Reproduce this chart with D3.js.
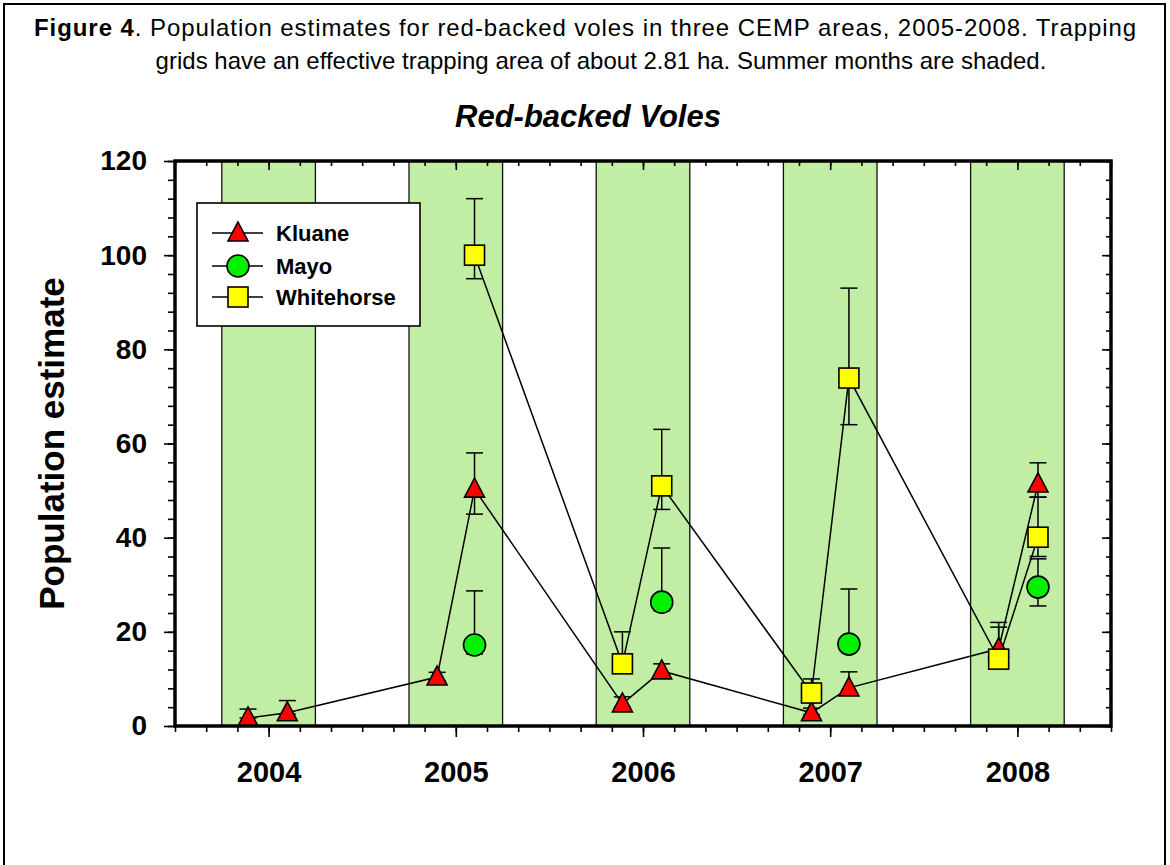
<!DOCTYPE html>
<html>
<head>
<meta charset="utf-8">
<script src="https://cdn.jsdelivr.net/npm/d3@7"></script>
<style>
  body { margin: 0; background: #fff; }
  svg { display: block; font-family: Arial, "Liberation Sans", sans-serif; }
</style>
</head>
<body>
<svg id="chart" width="1170" height="865"></svg>
<script>
// year labels on the x axis (tick sits at mid-year)
var years = [2004, 2005, 2006, 2007, 2008];
var yTicks = [0, 20, 40, 60, 80, 100, 120];

// Kluane (decimal year of trapping session, estimate, lower / upper error)
var kluaneT  = [2004.39, 2004.60, 2005.40, 2005.60, 2006.39, 2006.60, 2007.40, 2007.60, 2008.40, 2008.61];
var kluaneV  = [1.7, 2.8, 10.4, 50.3, 4.7, 11.7, 2.8, 8.1, 16.4, 51.4];
var kluaneLo = [1.7, 2.5, 9.6, 45.0, 4.0, 10.5, 2.4, 7.0, 15.0, 48.6];
var kluaneHi = [3.6, 5.4, 11.4, 58.0, 6.2, 13.2, 3.8, 11.5, 21.0, 55.9];

// Mayo
var mayoT  = [2005.60, 2006.60, 2007.60, 2008.61];
var mayoV  = [17.2, 26.3, 17.4, 29.5];
var mayoLo = [15.3, 24.5, 16.0, 25.5];
var mayoHi = [28.7, 37.8, 29.1, 35.5];

// Whitehorse
var whiteT  = [2005.60, 2006.39, 2006.60, 2007.40, 2007.60, 2008.40, 2008.61];
var whiteV  = [100, 13.2, 51.0, 7.0, 73.9, 14.2, 40.1];
var whiteLo = [95.0, 12.0, 46.0, 6.0, 64.0, 13.0, 36.0];
var whiteHi = [112.0, 20.0, 63.0, 10.0, 93.0, 22.0, 48.6];

var svg = d3.select("#chart");

// plot box (don't use "top" - it's window.top)
var pL = 175, pR = 1111, pT = 161, pB = 726;

var x = d3.scaleLinear().domain([2004, 2009]).range([pL, pR]);
var y = d3.scaleLinear().domain([0, 120]).range([pB, pT]);

// page border
svg.append("rect")
  .attr("x", 4).attr("y", 4)
  .attr("width", 1161).attr("height", 880)
  .attr("fill", "none").attr("stroke", "#000").attr("stroke-width", 2);

// caption, first line stretched to the full width
var cap1 = svg.append("text")
  .attr("x", 34).attr("y", 36)
  .style("font-size", "24px");
cap1.append("tspan").style("font-weight", "bold").text("Figure 4");
cap1.append("tspan").text(".  Population estimates for red-backed voles in three CEMP areas, 2005-2008. Trapping");
var natural = cap1.node().getComputedTextLength();
var nChars = cap1.text().length;
cap1.style("letter-spacing", Math.max(0, (1104 - natural) / nChars) + "px");

svg.append("text")
  .attr("x", 601).attr("y", 69)
  .attr("text-anchor", "middle")
  .style("font-size", "24px")
  .text("grids have an effective trapping area of about 2.81 ha. Summer months are shaded.");

// chart title
svg.append("text")
  .attr("x", 588).attr("y", 127)
  .attr("text-anchor", "middle")
  .style("font-size", "31px")
  .style("font-weight", "bold")
  .style("font-style", "italic")
  .text("Red-backed Voles");

// summer shading
svg.append("g").selectAll("rect")
  .data(years)
  .enter().append("rect")
  .attr("x", function(d) { return x(d + 0.25); })
  .attr("y", pT)
  .attr("width", function(d) { return x(d + 0.75) - x(d + 0.25); })
  .attr("height", pB - pT)
  .attr("fill", "#c2eda4");

svg.append("g").selectAll("line")
  .data(d3.merge(years.map(function(d) { return [d + 0.25, d + 0.75]; })))
  .enter().append("line")
  .attr("x1", function(d) { return x(d); })
  .attr("x2", function(d) { return x(d); })
  .attr("y1", pT).attr("y2", pB)
  .attr("stroke", "#111").attr("stroke-width", 1.3);

// axes
var minorX = d3.range(2004, 2009.001, 1 / 6);
var majorX = years.map(function(d) { return d + 0.5; });
var xBottom = d3.axisBottom(x).tickValues(minorX).tickSize(6).tickFormat("");
var xBottomMajor = d3.axisBottom(x).tickValues(majorX)
  .tickSize(11).tickFormat(function(d) { return String(Math.floor(d)); }).tickPadding(24);
var xTop = d3.axisBottom(x).tickValues(minorX).tickSize(5).tickFormat("");
var xTopMajor = d3.axisBottom(x).tickValues(majorX).tickSize(9).tickFormat("");

var minorY = d3.range(0, 120.001, 4);
var yLeft = d3.axisLeft(y).tickValues(minorY).tickSize(7).tickFormat("");
var yLeftMajor = d3.axisLeft(y).tickValues(yTicks).tickSize(11).tickPadding(17);
var yRight = d3.axisLeft(y).tickValues(minorY).tickSize(5).tickFormat("");
var yRightMajor = d3.axisLeft(y).tickValues(yTicks).tickSize(9).tickFormat("");

function styleAxis(g) {
  g.select(".domain").remove();
  g.selectAll(".tick line").attr("stroke", "#000").attr("stroke-width", 1.6);
}

svg.append("g").attr("transform", "translate(0," + pB + ")").call(xBottom).call(styleAxis);
var xb = svg.append("g").attr("transform", "translate(0," + pB + ")").call(xBottomMajor).call(styleAxis);
xb.selectAll("text")
  .attr("fill", "#000")
  .style("font-size", "29px")
  .style("font-weight", "bold")
  .style("font-family", "Arial, 'Liberation Sans', sans-serif");
svg.append("g").attr("transform", "translate(0," + pT + ")").call(xTop).call(styleAxis);
svg.append("g").attr("transform", "translate(0," + pT + ")").call(xTopMajor).call(styleAxis);

svg.append("g").attr("transform", "translate(" + pL + ",0)").call(yLeft).call(styleAxis);
var yl = svg.append("g").attr("transform", "translate(" + pL + ",0)").call(yLeftMajor).call(styleAxis);
yl.selectAll("text")
  .attr("fill", "#000")
  .style("font-size", "28px")
  .style("font-weight", "bold")
  .style("font-family", "Arial, 'Liberation Sans', sans-serif");
svg.append("g").attr("transform", "translate(" + pR + ",0)").call(yRight).call(styleAxis);
svg.append("g").attr("transform", "translate(" + pR + ",0)").call(yRightMajor).call(styleAxis);

// y axis title
svg.append("text")
  .attr("transform", "translate(64," + ((pT + pB) / 2) + ") rotate(-90)")
  .attr("text-anchor", "middle")
  .style("font-size", "35px")
  .style("font-weight", "bold")
  .text("Population estimate");

// series
function pack(t, v, lo, hi) {
  return t.map(function(d, i) { return {t: d, v: v[i], lo: lo[i], hi: hi[i]}; });
}
var kluane = pack(kluaneT, kluaneV, kluaneLo, kluaneHi);
var mayo = pack(mayoT, mayoV, mayoLo, mayoHi);
var white = pack(whiteT, whiteV, whiteLo, whiteHi);

var line = d3.line()
  .x(function(d) { return x(d.t); })
  .y(function(d) { return y(d.v); });

[kluane, white].forEach(function(s) {
  svg.append("path")
    .datum(s)
    .attr("d", line)
    .attr("fill", "none")
    .attr("stroke", "#000")
    .attr("stroke-width", 1.5);
});

// error bars
var capW = 8.5;
[kluane, mayo, white].forEach(function(s) {
  var g = svg.append("g").attr("stroke", "#000").attr("stroke-width", 1.5);
  g.selectAll(".stem").data(s).enter().append("line")
    .attr("x1", function(d) { return x(d.t); })
    .attr("x2", function(d) { return x(d.t); })
    .attr("y1", function(d) { return y(d.lo); })
    .attr("y2", function(d) { return y(d.hi); });
  g.selectAll(".hicap").data(s).enter().append("line")
    .attr("x1", function(d) { return x(d.t) - capW; })
    .attr("x2", function(d) { return x(d.t) + capW; })
    .attr("y1", function(d) { return y(d.hi); })
    .attr("y2", function(d) { return y(d.hi); });
  g.selectAll(".locap").data(s).enter().append("line")
    .attr("x1", function(d) { return x(d.t) - capW; })
    .attr("x2", function(d) { return x(d.t) + capW; })
    .attr("y1", function(d) { return y(d.lo); })
    .attr("y2", function(d) { return y(d.lo); });
});

// markers
function triangle() {
  var p = d3.path();
  p.moveTo(0, -11); p.lineTo(10, 8); p.lineTo(-10, 8); p.closePath();
  return p.toString();
}
function drawMarker(g, kind) {
  if (kind == "tri") {
    g.append("path").attr("d", triangle()).attr("fill", "#ff0000");
  } else if (kind == "circ") {
    g.append("circle").attr("r", 11).attr("fill", "#00f000");
  } else {
    g.append("rect").attr("x", -10).attr("y", -10).attr("width", 20).attr("height", 20).attr("fill", "#ffff00");
  }
  g.selectAll("*").attr("stroke", "#000").attr("stroke-width", 1.6);
}

var series = [
  {name: "Kluane", data: kluane, kind: "tri"},
  {name: "Mayo", data: mayo, kind: "circ"},
  {name: "Whitehorse", data: white, kind: "sq"}
];

series.forEach(function(s) {
  s.data.forEach(function(d) {
    var g = svg.append("g").attr("transform", "translate(" + x(d.t) + "," + y(d.v) + ")");
    drawMarker(g, s.kind);
  });
});

// legend
var legend = svg.append("g");
legend.append("rect")
  .attr("x", 197).attr("y", 203)
  .attr("width", 223).attr("height", 123)
  .attr("fill", "#fff").attr("stroke", "#000").attr("stroke-width", 1.6);
var rowY = [233, 266, 297];
series.forEach(function(s, i) {
  legend.append("line")
    .attr("x1", 212).attr("x2", 263)
    .attr("y1", rowY[i]).attr("y2", rowY[i])
    .attr("stroke", "#000").attr("stroke-width", 1.5);
  drawMarker(legend.append("g").attr("transform", "translate(238," + rowY[i] + ")"), s.kind);
  legend.append("text")
    .attr("x", 276).attr("y", rowY[i] + 8)
    .style("font-size", "22px")
    .style("font-weight", "bold")
    .text(s.name);
});

// plot frame
svg.append("rect")
  .attr("x", pL).attr("y", pT)
  .attr("width", pR - pL).attr("height", pB - pT)
  .attr("fill", "none").attr("stroke", "#000").attr("stroke-width", 3.5);
</script>
</body>
</html>
